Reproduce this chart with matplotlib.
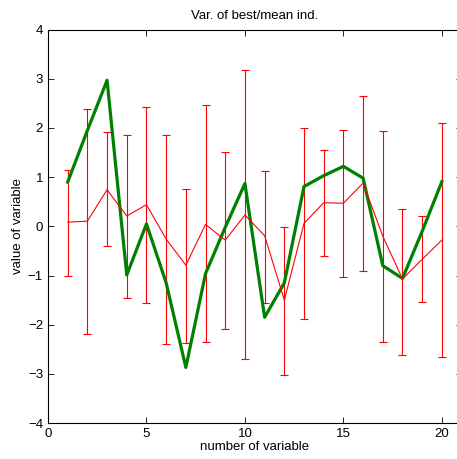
import numpy as np
import matplotlib
matplotlib.use('Agg')
import matplotlib.pyplot as plt

plt.rcParams['font.family'] = ['Liberation Sans', 'DejaVu Sans']

# 数据
variables = np.arange(1, 21)
best = [0.90, 1.95, 2.97, -0.99, 0.05, -1.15, -2.87, -0.96, -0.02, 0.87,
        -1.85, -1.15, 0.81, 1.03, 1.22, 0.98, -0.80, -1.06, -0.10, 0.91]
mean = [0.085, 0.105, 0.745, 0.21, 0.44, -0.26, -0.79, 0.04, -0.28, 0.23,
        -0.19, -1.50, 0.06, 0.48, 0.47, 0.88, -0.20, -1.07, -0.67, -0.28]
upper = [1.15, 2.39, 1.91, 1.86, 2.43, 1.85, 0.76, 2.47, 1.52, 3.18,
         1.13, -0.02, 2.00, 1.56, 1.96, 2.66, 1.94, 0.35, 0.21, 2.10]
lower = [-1.01, -2.19, -0.40, -1.45, -1.55, -2.40, -2.37, -2.36, -2.09, -2.69,
         -1.55, -3.03, -1.89, -0.60, -1.03, -0.91, -2.35, -2.62, -1.54, -2.66]

mean = np.array(mean)
yerr = [mean - np.array(lower), np.array(upper) - mean]

fig = plt.figure(figsize=(4.57, 4.59), dpi=100)
ax = fig.add_axes([0.105, 0.0784, 0.905, 0.857])

# 均值 + 误差棒
ax.errorbar(variables, mean, yerr=yerr, color='red', linewidth=0.8,
            elinewidth=0.8, capsize=3, capthick=0.8)
# 最优个体
ax.plot(variables, best, color=(0, 0.5, 0), linewidth=2.3)

ax.set_xlim(0, 21)
ax.set_ylim(-4, 4)
ax.set_xticks([0, 5, 10, 15, 20])
ax.set_yticks(np.arange(-4, 5))
ax.set_yticklabels(['\u22124', '\u22123', '\u22122', '\u22121', '0', '1', '2', '3', '4'])
ax.tick_params(direction='in', top=True, right=True, length=4, labelsize=9.5, width=0.6)
for s in ax.spines.values():
    s.set_linewidth(0.8)

ax.set_title('Var. of best/mean ind.', fontsize=9.5, pad=8)
ax.set_xlabel('number of variable', fontsize=9.5, labelpad=1)
ax.set_ylabel('value of variable', fontsize=9.5, labelpad=3)

plt.savefig('out.png', dpi=100)
